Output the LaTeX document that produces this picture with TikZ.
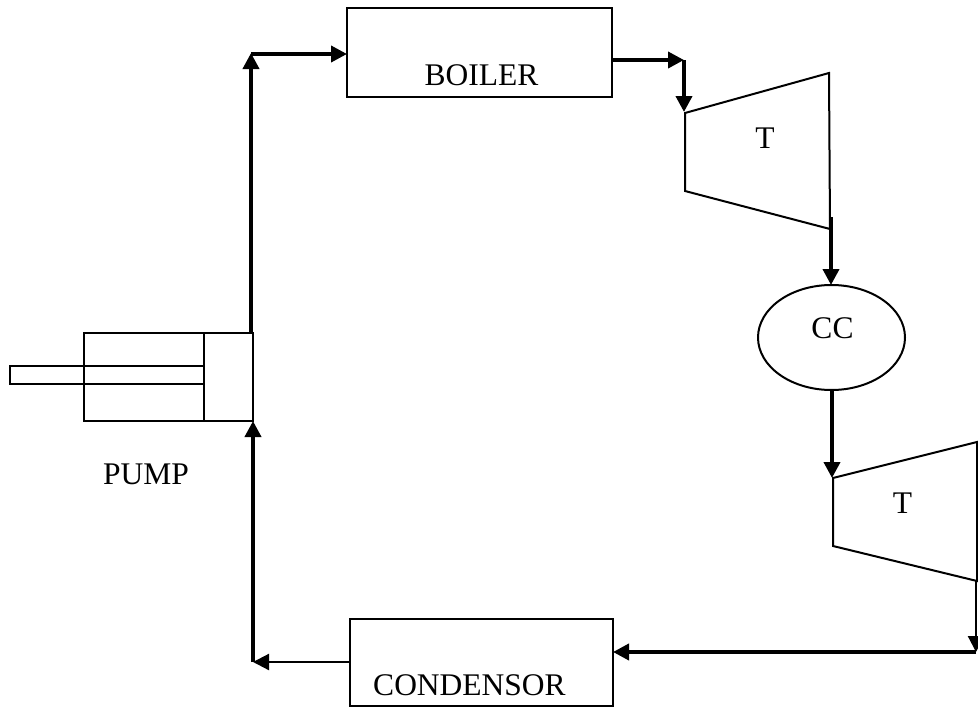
\documentclass[tikz,border=0pt]{standalone}
\usepackage{fontspec}
\setmainfont{Liberation Serif}
\usetikzlibrary{arrows.meta,shapes.geometric}
\tikzset{
 outline/.style={draw=black,line width=2pt,outer sep=0pt},
 flow/.style={draw=black,line width=3.8pt,-{Triangle[length=16pt,width=16pt]}},
 flowthin/.style={draw=black,line width=2.2pt,-{Triangle[length=16pt,width=16pt]}},
 lab/.style={font=\fontsize{31.5pt}{34pt}\selectfont,inner sep=0pt,text=black},
 boxshape/.style={outline,inner sep=0pt,anchor=north west}
}
\begin{document}
\begin{tikzpicture}[x=1pt,y=-1pt]
\useasboundingbox (0,0) rectangle (978,707);
\node[boxshape,minimum width=265pt,minimum height=89pt] (boiler) at (347,8) {};
\node[lab] (boilerlab) at (481.5,75) {BOILER};
\node[boxshape,minimum width=263pt,minimum height=87pt] (cond) at (350,619) {};
\node[lab] (condlab) at (469.5,685) {CONDENSOR};
\node[lab] (pumplab) at (146,474) {PUMP};
\node[lab] (t1lab) at (765,138) {T};
\node[lab] (t2lab) at (902.5,503) {T};
\node[outline,ellipse,minimum width=147pt,minimum height=105pt,inner sep=0pt] (cc) at (831.5,337.5) {};
\node[lab] (cclab) at (832.5,328) {CC};
% pump
\node[boxshape,minimum width=169pt,minimum height=88pt] (pump) at (84,333) {};
\coordinate (pp1) at (204,333); \coordinate (pp2) at (204,421);
\draw[outline] (pp1)--(pp2);
\coordinate (r1) at (204,366); \coordinate (r2) at (10,366); \coordinate (r3) at (10,383.5); \coordinate (r4) at (204,383.5);
\draw[outline] (r1)--(r2)--(r3)--(r4);
% turbines
\coordinate (a1) at (685,113); \coordinate (a2) at (829,73); \coordinate (a3) at (830,229); \coordinate (a4) at (685,191);
\draw[outline] (a1)--(a2)--(a3)--(a4)--cycle;
\coordinate (b1) at (833,478); \coordinate (b2) at (977,442); \coordinate (b3) at (977,581); \coordinate (b4) at (833,546);
\draw[outline] (b1)--(b2)--(b3)--(b4)--cycle;
% connectors
\coordinate (u) at (251,333); \coordinate (uc) at (251,53);
\draw[flow] (u)--(uc);
\coordinate (ub) at (251,54);
\draw[flow] (ub)--(boiler.west |- ub);
\coordinate (bo) at (612,60); \coordinate (bc) at (684,60); \coordinate (be) at (684,112);
\draw[flow] (bo)--(bc);
\draw[flow] (bc)--(be);
\coordinate (t1o) at (831,217);
\draw[flow] (t1o)--(cc.north -| t1o);
\coordinate (cco) at (832,390); \coordinate (t2i) at (832,478);
\draw[flow] (cco)--(t2i);
\coordinate (t2o) at (976,581); \coordinate (t2e) at (976,652);
\draw[flowthin] (t2o)--(t2e);
\draw[flow] (t2e)--(cond.east |- t2e);
\coordinate (co) at (350,662); \coordinate (cc2) at (253,662);
\draw[flowthin] (co)--(cc2);
\draw[flow] (cc2)--(pump.south east);
\end{tikzpicture}
\end{document}
